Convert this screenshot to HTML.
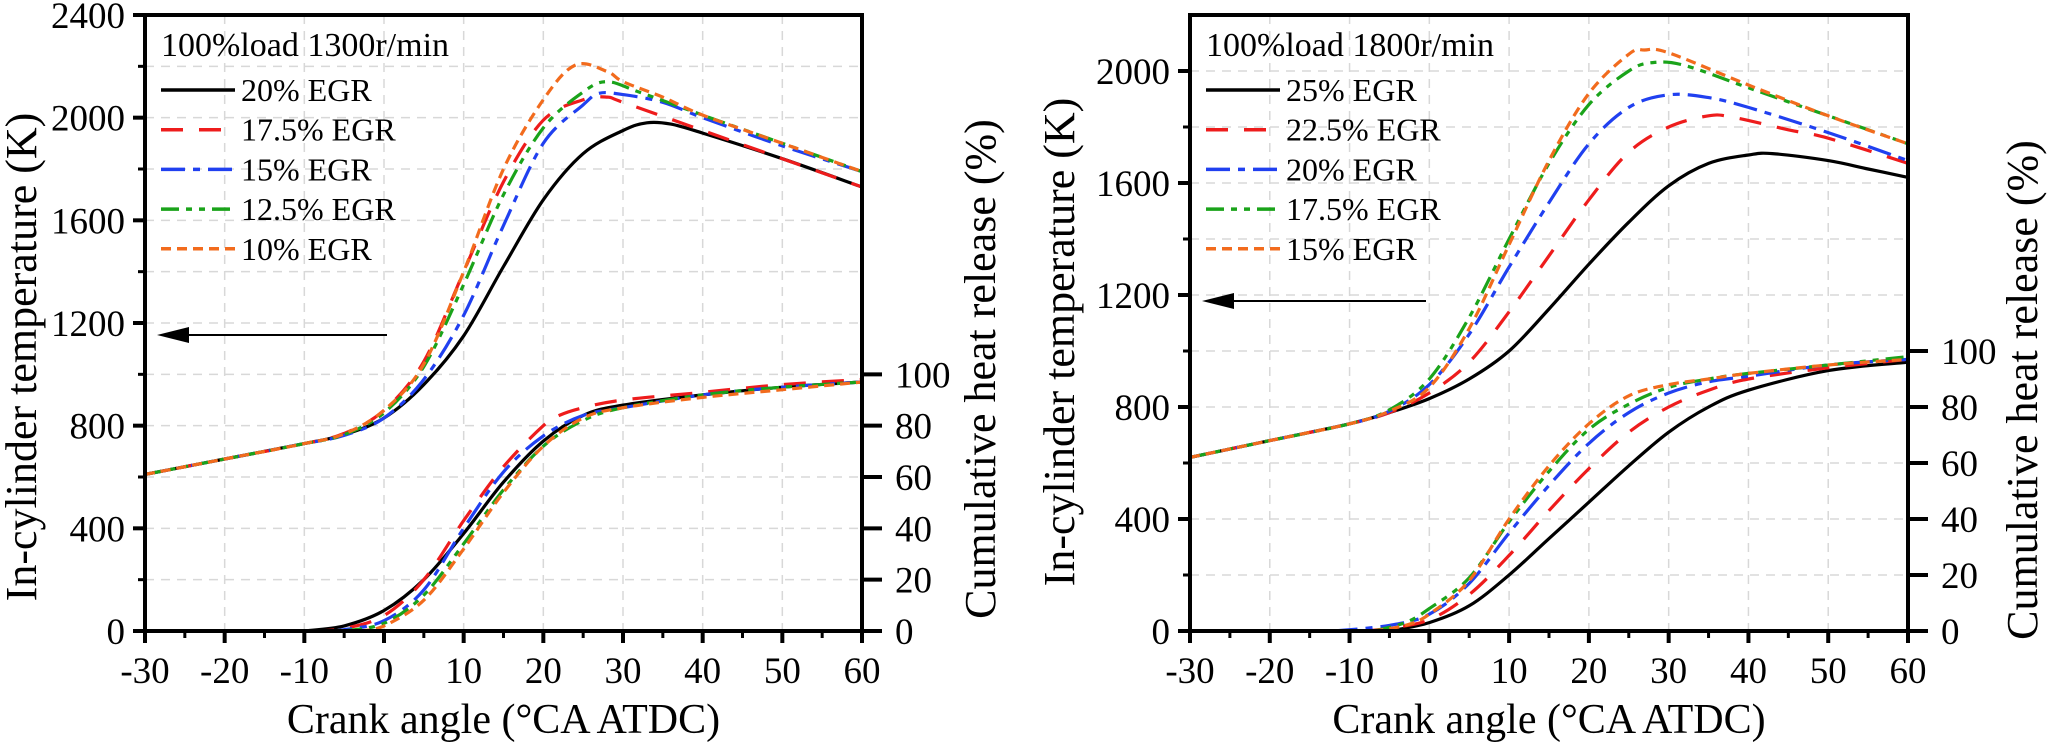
<!DOCTYPE html>
<html><head><meta charset="utf-8"><style>
body{margin:0;background:#fff}
svg{display:block}
text{font-family:"Liberation Serif","Times New Roman",serif;fill:#000}
</style></head><body>
<svg id="chart" width="2048" height="747" viewBox="0 0 2048 747" xmlns="http://www.w3.org/2000/svg" font-family="Liberation Serif, serif">
</svg>
<script>
// ---- data: left panel (100% load 1300 r/min) ----
const xTickLabels = ["-30","-20","-10","0","10","20","30","40","50","60"];
const leftTempTicks = ["0","400","800","1200","1600","2000","2400"];
const rightTempTicks = ["0","400","800","1200","1600","2000"];
const hrTicks = ["0","20","40","60","80","100"];
const leftLabels = ["20% EGR","17.5% EGR","15% EGR","12.5% EGR","10% EGR"];
const rightLabels = ["25% EGR","22.5% EGR","20% EGR","17.5% EGR","15% EGR"];

const L_T_black_x = [-30,-20,-10,-5,0,5,10,15,20,25,30,33,36,40,50,60];
const L_T_black_y = [610,670,730,765,830,960,1150,1420,1680,1860,1950,1980,1975,1940,1840,1730];
const L_T_red_x = [-30,-20,-10,-5,0,5,10,15,20,25,28,30,40,50,60];
const L_T_red_y = [610,670,730,770,860,1050,1400,1750,1990,2070,2080,2060,1950,1840,1730];
const L_T_blue_x = [-30,-20,-10,-5,0,5,10,15,20,25,27,30,35,40,50,60];
const L_T_blue_y = [610,670,730,762,830,980,1230,1580,1900,2050,2095,2090,2060,2000,1890,1790];
const L_T_green_x = [-30,-20,-10,-5,0,5,10,15,20,25,28,32,40,50,60];
const L_T_green_y = [610,670,730,765,850,1030,1350,1700,1960,2100,2140,2100,2010,1900,1790];
const L_T_orange_x = [-30,-20,-10,-5,0,5,10,15,20,24,28,30,35,40,50,60];
const L_T_orange_y = [610,670,730,768,860,1040,1400,1800,2070,2205,2180,2140,2080,2010,1900,1790];

const L_H_black_x = [-10,-5,0,5,10,15,20,25,30,40,50,60];
const L_H_black_y = [0,2,8,20,38,58,74,84,88,92,95,97];
const L_H_red_x = [-9,-5,0,5,10,15,20,22,25,30,40,50,60];
const L_H_red_y = [0,1,6,20,43,64,80,84,87,90,93,96,98];
const L_H_blue_x = [-7,-5,0,5,10,15,20,25,30,40,50,60];
const L_H_blue_y = [0,0.5,4,16,40,62,76,84,87,92,95,97];
const L_H_green_x = [-5,0,5,10,15,20,25,30,40,50,60];
const L_H_green_y = [0,3,14,34,55,72,82,87,92,95,97];
const L_H_orange_x = [-3,0,5,10,15,20,25,30,40,50,60];
const L_H_orange_y = [0,2,12,32,54,72,83,87,91,94,97];

// ---- data: right panel (100% load 1800 r/min) ----
const R_T_black_x = [-30,-20,-10,-5,0,5,10,15,20,25,30,35,40,43,50,55,60];
const R_T_black_y = [620,680,740,780,830,900,1000,1150,1310,1460,1590,1670,1700,1705,1680,1650,1620];
const R_T_red_x = [-30,-20,-10,-5,0,5,10,15,20,25,30,35,38,45,50,60];
const R_T_red_y = [620,680,740,780,850,960,1140,1340,1540,1710,1800,1840,1835,1790,1760,1670];
const R_T_blue_x = [-30,-20,-10,-5,0,5,10,15,20,25,30,35,40,50,60];
const R_T_blue_y = [620,680,740,785,880,1060,1300,1530,1740,1870,1915,1905,1870,1780,1680];
const R_T_green_x = [-30,-20,-10,-5,0,5,10,15,20,25,28,32,40,50,60];
const R_T_green_y = [620,680,740,790,900,1120,1400,1670,1880,2000,2030,2020,1940,1840,1740];
const R_T_orange_x = [-30,-20,-10,-5,0,5,10,15,20,25,27,30,40,50,60];
const R_T_orange_y = [620,680,740,785,870,1080,1380,1680,1920,2060,2075,2065,1950,1840,1740];

const R_H_black_x = [-5,0,5,10,15,20,25,30,35,40,50,60];
const R_H_black_y = [0,3,9,20,33,46,59,71,80,86,93,96];
const R_H_red_x = [-8,-5,0,5,10,15,20,25,30,35,40,50,60];
const R_H_red_y = [0,1,4,13,27,43,58,71,80,86,90,94,97];
const R_H_blue_x = [-12,-5,0,5,10,15,20,25,30,35,40,50,60];
const R_H_blue_y = [0,2,6,17,35,52,67,78,85,89,91,95,97];
const R_H_green_x = [-7,-3,0,5,10,15,20,25,30,35,40,50,60];
const R_H_green_y = [0,3,8,19,39,57,72,81,87,90,92,95,98];
const R_H_orange_x = [-7,-3,0,5,10,15,20,25,30,35,40,50,60];
const R_H_orange_y = [0,2,6,18,40,59,74,84,88,90,92,95,97];

const NS = "http://www.w3.org/2000/svg";
const svg = document.getElementById('chart');
const colors = ["#000000","#ee1c1c","#2040f0","#1aa31a","#f26b1d"];
const dashes = ["", "22 16", "24 8 7 8", "18 7 6 7 6 7", "10 6"];
const FF = "Liberation Serif, Times New Roman, serif";
function mk(tag, attrs, parent){const e=document.createElementNS(NS,tag);for(const k in attrs)e.setAttribute(k,attrs[k]);if(tag==='text')e.setAttribute('font-family',FF);(parent||svg).appendChild(e);return e;}
function smooth(pts){
  if(pts.length<2)return "";
  let d="M"+pts[0][0].toFixed(1)+","+pts[0][1].toFixed(1);
  for(let i=0;i<pts.length-1;i++){
    const p0=pts[Math.max(0,i-1)],p1=pts[i],p2=pts[i+1],p3=pts[Math.min(pts.length-1,i+2)];
    const c1x=p1[0]+(p2[0]-p0[0])/6,c1y=p1[1]+(p2[1]-p0[1])/6;
    const c2x=p2[0]-(p3[0]-p1[0])/6,c2y=p2[1]-(p3[1]-p1[1])/6;
    d+="C"+c1x.toFixed(1)+","+c1y.toFixed(1)+" "+c2x.toFixed(1)+","+c2y.toFixed(1)+" "+p2[0].toFixed(1)+","+p2[1].toFixed(1);
  }
  return d;
}
function panel(cfg){
  const g=mk('g',{});
  
  
  const X=v=>cfg.x0+(v+30)/90*(cfg.x1-cfg.x0);
  const Y=v=>cfg.yb-(v/cfg.ymax)*(cfg.yb-cfg.yt);
  const H=v=>Y(v*10);
  for(let v=-20;v<=50;v+=10){const l=mk('line',{x1:X(v),x2:X(v),y1:cfg.yt,y2:cfg.yb,stroke:'#d8d8d8','stroke-width':1.5,'stroke-dasharray':'9 7'},g);
    }
  for(let v=200;v<cfg.ymax;v+=200){const l=mk('line',{x1:cfg.x0,x2:cfg.x1,y1:Y(v),y2:Y(v),stroke:'#d8d8d8','stroke-width':1.5,'stroke-dasharray':'9 7'},g);
    }
  const clip=mk('clipPath',{id:cfg.name+'-clip'},g);
  mk('rect',{x:cfg.x0,y:cfg.yt,width:cfg.x1-cfg.x0,height:cfg.yb-cfg.yt},clip);
  const sg=mk('g',{'clip-path':'url(#'+cfg.name+'-clip)'},g);
  cfg.temp.forEach((s,i)=>{const p=mk('path',{d:smooth(s[0].map((x,j)=>[X(x),Y(s[1][j])])),fill:'none',stroke:colors[i],'stroke-width':3.2,'stroke-dasharray':dashes[i]},sg);
    });
  cfg.heat.forEach((s,i)=>{const p=mk('path',{d:smooth(s[0].map((x,j)=>[X(x),H(s[1][j])])),fill:'none',stroke:colors[i],'stroke-width':3.2,'stroke-dasharray':dashes[i]},sg);
    });
  const fr=mk('rect',{x:cfg.x0,y:cfg.yt,width:cfg.x1-cfg.x0,height:cfg.yb-cfg.yt,fill:'none',stroke:'#000','stroke-width':4},g);
  
  xTickLabels.forEach((t,i)=>{const v=-30+i*10;mk('line',{x1:X(v),x2:X(v),y1:cfg.yb,y2:cfg.yb+12,stroke:'#000','stroke-width':4},g);
    const tx=mk('text',{x:X(v),y:cfg.yb+52,'font-size':37,'text-anchor':'middle'},g);tx.textContent=t;
    
    if(v<60)mk('line',{x1:X(v+5),x2:X(v+5),y1:cfg.yb,y2:cfg.yb+7,stroke:'#000','stroke-width':3},g);});
  cfg.yTicks.forEach((t,i)=>{const v=i*400;mk('line',{x1:cfg.x0-12,x2:cfg.x0,y1:Y(v),y2:Y(v),stroke:'#000','stroke-width':4},g);
    const tx=mk('text',{x:cfg.x0-20,y:Y(v)+13,'font-size':37,'text-anchor':'end'},g);tx.textContent=t;
    
    if(v+200<cfg.ymax)mk('line',{x1:cfg.x0-7,x2:cfg.x0,y1:Y(v+200),y2:Y(v+200),stroke:'#000','stroke-width':3},g);});
  hrTicks.forEach((t,i)=>{const v=i*20;mk('line',{x1:cfg.x1,x2:cfg.x1+20,y1:H(v),y2:H(v),stroke:'#000','stroke-width':4},g);
    const tx=mk('text',{x:cfg.x1+33,y:H(v)+13,'font-size':37},g);tx.textContent=t;
    });
  let tx=mk('text',{x:(cfg.x0+cfg.x1)/2,y:733,'font-size':42,'text-anchor':'middle'},g);tx.textContent='Crank angle (°CA ATDC)';
  
  tx=mk('text',{x:0,y:0,'font-size':44,'text-anchor':'middle',transform:'translate('+cfg.ytx+','+cfg.ytc+') rotate(-90)'},g);tx.textContent='In-cylinder temperature (K)';
  
  tx=mk('text',{x:0,y:0,'font-size':44,'text-anchor':'middle',transform:'translate('+cfg.rtx+','+cfg.rtc+') rotate(-90)'},g);tx.textContent='Cumulative heat release (%)';
  
  tx=mk('text',{x:cfg.x0+16,y:56,'font-size':34},g);tx.textContent=cfg.title;
  
  cfg.labels.forEach((lab,i)=>{const yy=90+i*39.7;
    const ln=mk('line',{x1:cfg.x0+16,x2:cfg.x0+90,y1:yy,y2:yy,stroke:colors[i],'stroke-width':3.5,'stroke-dasharray':dashes[i]},g);
    
    const t=mk('text',{x:cfg.x0+96,y:yy+11,'font-size':32},g);t.textContent=lab;
    });
  const ay=cfg.arrowY;
  const al=mk('line',{x1:cfg.arrowX1,x2:cfg.x0+40,y1:ay,y2:ay,stroke:'#000','stroke-width':2},g);
  
  mk('polygon',{points:(cfg.x0+12)+','+ay+' '+(cfg.x0+44)+','+(ay-8)+' '+(cfg.x0+44)+','+(ay+8),fill:'#000'},g);
}
panel({name:'left-panel',x0:145,x1:862,yt:15,yb:631,ymax:2400,yTicks:leftTempTicks,title:'100%load 1300r/min',labels:leftLabels,
  ytx:36,ytc:357,rtx:995,rtc:369,arrowX1:387,arrowY:335,
  temp:[[L_T_black_x,L_T_black_y],[L_T_red_x,L_T_red_y],[L_T_blue_x,L_T_blue_y],[L_T_green_x,L_T_green_y],[L_T_orange_x,L_T_orange_y]],
  heat:[[L_H_black_x,L_H_black_y],[L_H_red_x,L_H_red_y],[L_H_blue_x,L_H_blue_y],[L_H_green_x,L_H_green_y],[L_H_orange_x,L_H_orange_y]]});
panel({name:'right-panel',x0:1190,x1:1908,yt:15,yb:631,ymax:2200,yTicks:rightTempTicks,title:'100%load 1800r/min',labels:rightLabels,
  ytx:1074,ytc:342,rtx:2037,rtc:390,arrowX1:1426,arrowY:301,
  temp:[[R_T_black_x,R_T_black_y],[R_T_red_x,R_T_red_y],[R_T_blue_x,R_T_blue_y],[R_T_green_x,R_T_green_y],[R_T_orange_x,R_T_orange_y]],
  heat:[[R_H_black_x,R_H_black_y],[R_H_red_x,R_H_red_y],[R_H_blue_x,R_H_blue_y],[R_H_green_x,R_H_green_y],[R_H_orange_x,R_H_orange_y]]});
</script>
</body></html>
